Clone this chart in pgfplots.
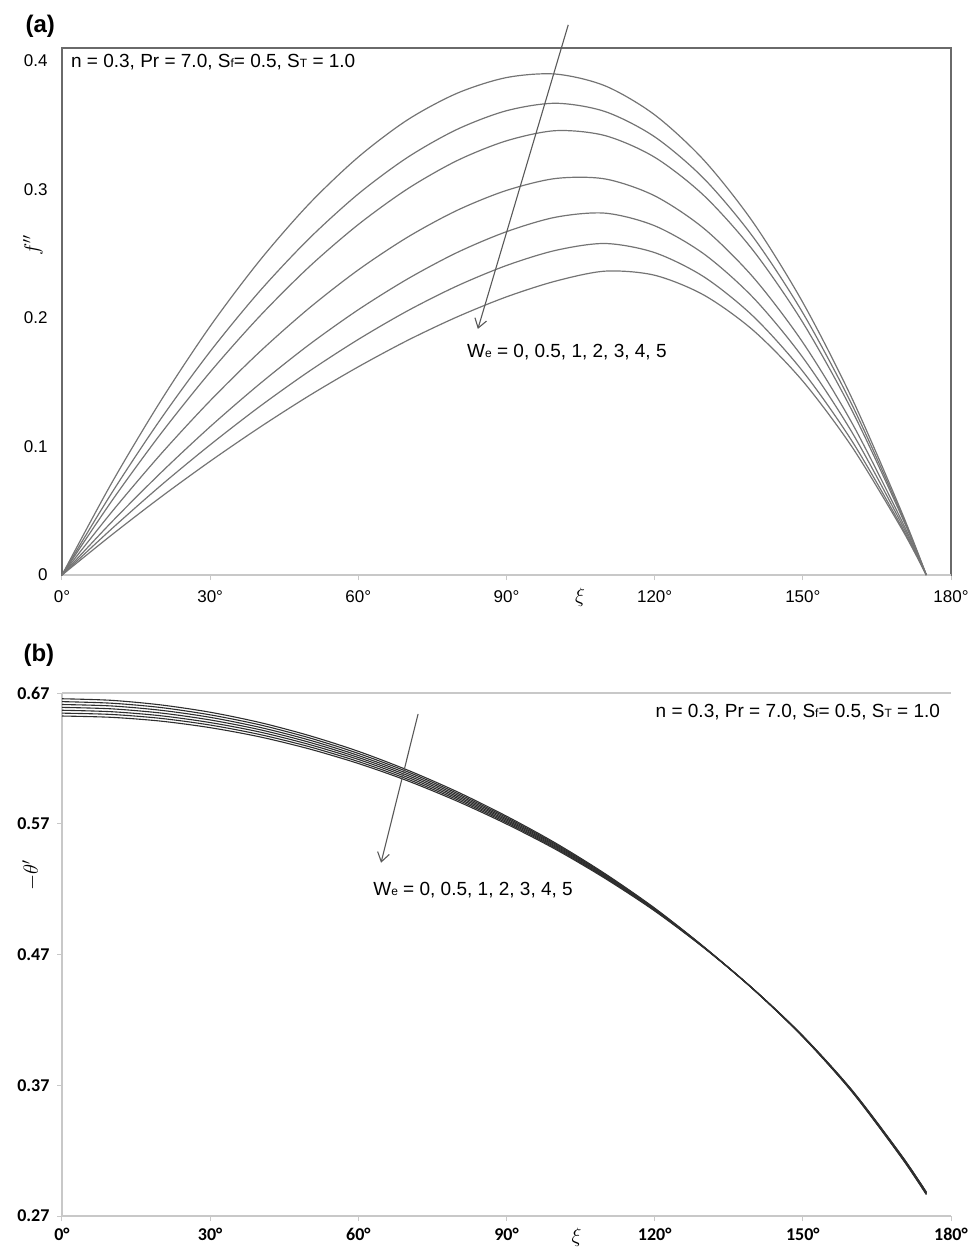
\documentclass[border=0pt]{standalone}
\usepackage{fontspec}
\setmainfont{Liberation Sans}
\newfontfamily\calibri{Carlito}
\usepackage{pgfplots}
\pgfplotsset{compat=1.18}
\usetikzlibrary{arrows.meta}
\definecolor{curveA}{HTML}{747474}
\definecolor{curveB}{HTML}{2E2E2E}
\definecolor{boxc}{HTML}{6A6A6A}
\definecolor{lightax}{HTML}{C8C8C8}
\begin{document}
\begin{tikzpicture}
\useasboundingbox (0,0) rectangle (971pt,-1247pt);
% ---------------- panel (a) ----------------
\node[anchor=west,font=\fontsize{24}{26}\selectfont\bfseries] at (22pt,-26pt) {(a)};
\begin{axis}[
  at={(62pt,-575pt)}, anchor=south west,
  width=889pt, height=527pt, scale only axis,
  xmin=0, xmax=180, ymin=0, ymax=0.41,
  clip=false,
  axis line style={draw=boxc, line width=1.6pt},
  xtick={0,30,60,90,120,150,180},
  xticklabels={0°,30°,60°,90°,120°,150°,180°},
  ytick={0,0.1,0.2,0.3,0.4},
  yticklabels={0,0.1,0.2,0.3,0.4},
  tick pos=left,
  tick align=outside,
  major tick length=5pt,
  xtick style={draw=lightax, line width=1pt},
  ytick style={draw=none},
  ticklabel style={font=\fontsize{17}{19}\selectfont},
  xticklabel style={yshift=-7pt},
  yticklabel style={xshift=-6pt},
  cycle list={curveA,line width=1.2pt,smooth,mark=none\\},
]
\draw[lightax, line width=1.6pt] (rel axis cs:0,0) -- (rel axis cs:1,0);
\draw[boxc, line width=1.6pt] (rel axis cs:0,0) -- (rel axis cs:0,1);
\addplot coordinates {(0,0) (10,0.0712) (20,0.1355) (30,0.1935) (40,0.2445) (50,0.2886) (60,0.3252) (70,0.3542) (80,0.3748) (90,0.3870) (100,0.3897) (110,0.3805) (120,0.358) (130,0.3226) (140,0.274) (150,0.212) (160,0.137) (170,0.049) (175,0)};
\addplot coordinates {(0,0) (10,0.0634) (20,0.1214) (30,0.1739) (40,0.2207) (50,0.2616) (60,0.2965) (70,0.325) (80,0.3467) (90,0.3612) (100,0.367) (110,0.3605) (120,0.3409) (130,0.3083) (140,0.2626) (150,0.2039) (160,0.1321) (170,0.0473) (175,0)};
\addplot coordinates {(0,0) (10,0.0572) (20,0.1099) (30,0.1579) (40,0.2012) (50,0.2396) (60,0.2727) (70,0.3005) (80,0.3224) (90,0.3378) (100,0.3457) (110,0.3418) (120,0.325) (130,0.2951) (140,0.2522) (150,0.1964) (160,0.1276) (170,0.0458) (175,0)};
\addplot coordinates {(0,0) (10,0.0487) (20,0.094) (30,0.1356) (40,0.1735) (50,0.2075) (60,0.2374) (70,0.2629) (80,0.2837) (90,0.2992) (100,0.3085) (110,0.3081) (120,0.295) (130,0.2695) (140,0.2314) (150,0.1809) (160,0.1179) (170,0.0424) (175,0)};
\addplot coordinates {(0,0) (10,0.041) (20,0.0795) (30,0.1154) (40,0.1486) (50,0.1791) (60,0.2064) (70,0.2304) (80,0.2509) (90,0.2671) (100,0.2784) (110,0.2815) (120,0.2717) (130,0.2497) (140,0.2156) (150,0.1692) (160,0.1107) (170,0.0399) (175,0)};
\addplot coordinates {(0,0) (10,0.0357) (20,0.0696) (30,0.1013) (40,0.131) (50,0.1584) (60,0.1833) (70,0.2056) (80,0.2249) (90,0.2408) (100,0.2526) (110,0.2579) (120,0.2508) (130,0.2319) (140,0.2011) (150,0.1584) (160,0.1039) (170,0.0376) (175,0)};
\addplot coordinates {(0,0) (10,0.031) (20,0.0606) (30,0.0885) (40,0.1148) (50,0.1394) (60,0.162) (70,0.1826) (80,0.2008) (90,0.2164) (100,0.2287) (110,0.2364) (120,0.2332) (130,0.2177) (140,0.1902) (150,0.1508) (160,0.0994) (170,0.0361) (175,0)};
\draw[-{Straight Barb[length=9pt,width=12pt]}, black!65, line width=1.1pt] (axis cs:102.5,0.428) -- (axis cs:84.2,0.1914);
\node[anchor=west, font=\fontsize{19}{21}\selectfont, inner sep=0pt] at (axis cs:82,0.1735) {W{\fontsize{12}{12}\selectfont e} = 0, 0.5, 1, 2, 3, 4, 5};
\node[anchor=west, font=\fontsize{19}{21}\selectfont, inner sep=0pt] at (axis cs:1.8,0.399) {n = 0.3, Pr = 7.0, S{\fontsize{12}{12}\selectfont f}= 0.5, S{\fontsize{12}{12}\selectfont T} = 1.0};
\node[font=\fontsize{21}{23}\selectfont] at (axis cs:104.9,-0.0175) {$\xi$};
\end{axis}
\node[rotate=90, font=\fontsize{21}{23}\selectfont] at (33pt,-245pt) {$f''$};
% ---------------- panel (b) ----------------
\node[anchor=west,font=\fontsize{24}{26}\selectfont\bfseries] at (20pt,-655pt) {(b)};
\begin{axis}[
  at={(62pt,-1216pt)}, anchor=south west,
  width=889pt, height=523pt, scale only axis,
  xmin=0, xmax=180, ymin=0.27, ymax=0.67,
  clip=false,
  axis lines*=left,
  axis line style={draw=lightax, line width=1.6pt, -},
  xtick={0,30,60,90,120,150,180},
  xticklabels={0°,30°,60°,90°,120°,150°,180°},
  ytick={0.27,0.37,0.47,0.57,0.67},
  yticklabels={0.27,0.37,0.47,0.57,0.67},
  tick align=outside,
  major tick length=5pt,
  tick style={draw=lightax, line width=1pt},
  ticklabel style={font=\fontsize{18}{20}\selectfont\calibri\bfseries},
  xticklabel style={yshift=-4pt},
  yticklabel style={xshift=-4pt},
  cycle list={curveB,line width=1.1pt,smooth,mark=none\\},
]
\draw[lightax, line width=1.6pt] (rel axis cs:0,1) -- (rel axis cs:1,1);
\addplot coordinates {(0,0.6656) (10,0.6644) (20,0.6609) (30,0.6553) (40,0.6475) (50,0.6375) (60,0.6254) (70,0.6110) (80,0.5945) (90,0.5758) (100,0.5551) (110,0.5317) (120,0.5055) (130,0.4758) (140,0.4433) (150,0.4070) (160,0.3647) (170,0.3145) (175,0.2864)};
\addplot coordinates {(0,0.6634) (10,0.6622) (20,0.6589) (30,0.6533) (40,0.6457) (50,0.6358) (60,0.6238) (70,0.6097) (80,0.5933) (90,0.5748) (100,0.5543) (110,0.5311) (120,0.5051) (130,0.4756) (140,0.4433) (150,0.4071) (160,0.3650) (170,0.3148) (175,0.2867)};
\addplot coordinates {(0,0.6612) (10,0.6601) (20,0.6568) (30,0.6514) (40,0.6438) (50,0.6341) (60,0.6222) (70,0.6083) (80,0.5921) (90,0.5738) (100,0.5535) (110,0.5305) (120,0.5048) (130,0.4755) (140,0.4434) (150,0.4073) (160,0.3652) (170,0.3151) (175,0.2871)};
\addplot coordinates {(0,0.6590) (10,0.6579) (20,0.6547) (30,0.6494) (40,0.6420) (50,0.6324) (60,0.6207) (70,0.6069) (80,0.5909) (90,0.5728) (100,0.5527) (110,0.5299) (120,0.5044) (130,0.4754) (140,0.4434) (150,0.4074) (160,0.3654) (170,0.3154) (175,0.2874)};
\addplot coordinates {(0,0.6568) (10,0.6557) (20,0.6526) (30,0.6474) (40,0.6402) (50,0.6307) (60,0.6192) (70,0.6055) (80,0.5897) (90,0.5718) (100,0.5519) (110,0.5293) (120,0.5040) (130,0.4753) (140,0.4434) (150,0.4075) (160,0.3656) (170,0.3157) (175,0.2877)};
\addplot coordinates {(0,0.6546) (10,0.6536) (20,0.6506) (30,0.6455) (40,0.6383) (50,0.6290) (60,0.6176) (70,0.6041) (80,0.5885) (90,0.5708) (100,0.5511) (110,0.5287) (120,0.5037) (130,0.4752) (140,0.4435) (150,0.4077) (160,0.3658) (170,0.3160) (175,0.2881)};
\addplot coordinates {(0,0.6524) (10,0.6514) (20,0.6485) (30,0.6435) (40,0.6365) (50,0.6273) (60,0.6161) (70,0.6028) (80,0.5873) (90,0.5698) (100,0.5503) (110,0.5281) (120,0.5033) (130,0.4750) (140,0.4435) (150,0.4078) (160,0.3661) (170,0.3163) (175,0.2884)};
\draw[-{Straight Barb[length=9pt,width=12pt]}, black!65, line width=1.1pt] (axis cs:72.1,0.654) -- (axis cs:64.6,0.5402);
\node[anchor=west, font=\fontsize{19}{21}\selectfont, inner sep=0pt] at (axis cs:63,0.5196) {W{\fontsize{12}{12}\selectfont e} = 0, 0.5, 1, 2, 3, 4, 5};
\node[anchor=east, font=\fontsize{19}{21}\selectfont, inner sep=0pt] at (axis cs:177.8,0.6555) {n = 0.3, Pr = 7.0, S{\fontsize{12}{12}\selectfont f}= 0.5, S{\fontsize{12}{12}\selectfont T} = 1.0};
\node[font=\fontsize{21}{23}\selectfont] at (axis cs:104.2,0.2535) {$\xi$};
\end{axis}
\node[rotate=90, font=\fontsize{21}{23}\selectfont] at (31pt,-875pt) {$-\theta'$};
\end{tikzpicture}
\end{document}
